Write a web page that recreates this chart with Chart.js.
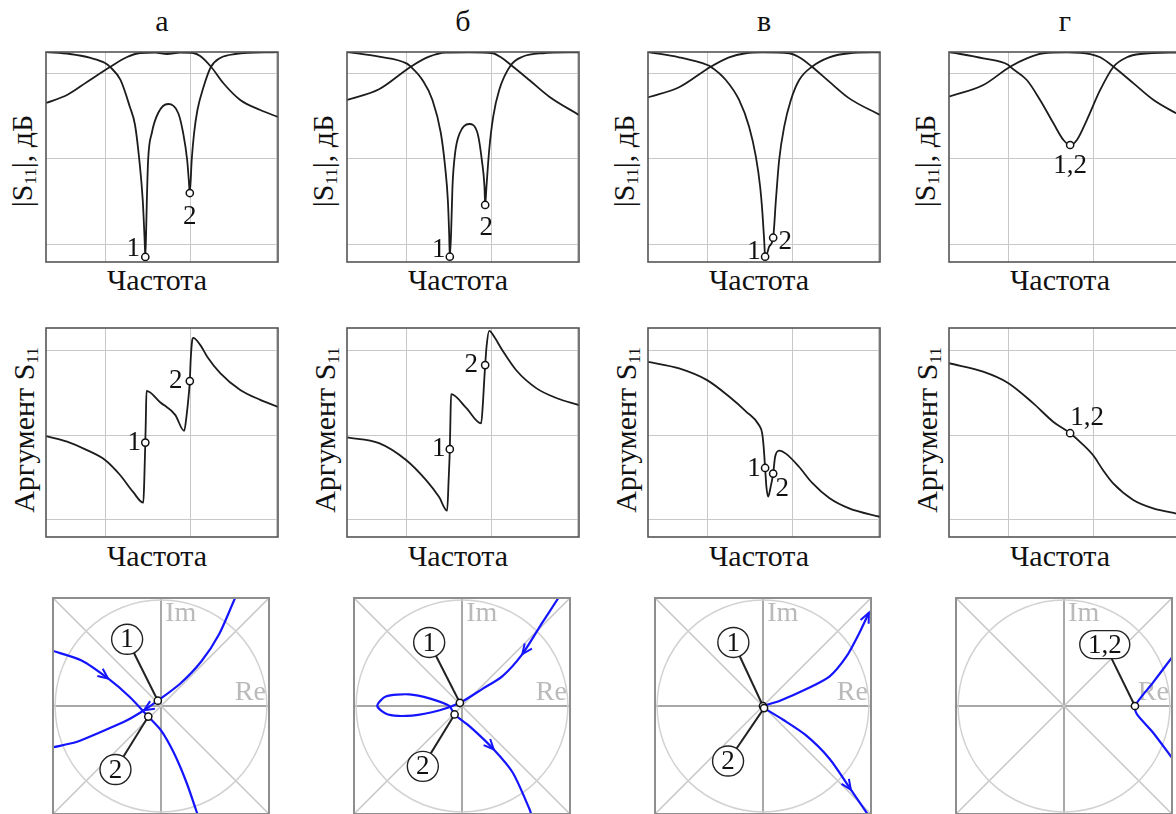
<!DOCTYPE html>
<html>
<head>
<meta charset="utf-8">
<script src="https://cdn.jsdelivr.net/npm/chart.js@4.4.1/dist/chart.umd.min.js"></script>
<style>
html, body { margin: 0; padding: 0; background: #fff; }
#fig { position: relative; width: 1176px; height: 814px; overflow: hidden; font-family: "Liberation Serif", "DejaVu Serif", serif; color: #111; }
#fig canvas { position: absolute; }
.lbl { position: absolute; transform: translate(-50%, -50%); font-size: 30px; line-height: 1; white-space: nowrap; }
.rot { transform: translate(-50%, -50%) rotate(-90deg); }
.lbl sub { font-size: 17px; vertical-align: -4px; line-height: 0; }
</style>
</head>
<body>
<div id="fig"></div>
<script>
// ---- texts ----
const panelTitles = ['а', 'б', 'в', 'г'];
const xTitle = 'Частота';
const magTitle = '|S<sub>11</sub>|, дБ';
const argTitle = 'Аргумент S<sub>11</sub>';

// ---- axes (frequency in arbitrary units, |S| in dB, phase in degrees, complex plane) ----
const freqTicks = [1, 2, 3];
const magTicks = [-2.6, -12.7, -22.9];
const argTicks = [-180, 0, 180];
const planeTicks = [0];

// ---- |S11| and |S21| curves, [frequency, dB] ----
const s11_a = [[0.31,0],[0.59,-0.24],[0.83,-0.71],[1.0,-1.31],[1.06,-1.79],[1.18,-3.33],[1.29,-6.55],[1.35,-8.69],[1.40,-12.86],[1.44,-17.62],[1.462,-22.38],[1.47,-24.4],[1.48,-21.19],[1.488,-17.62],[1.503,-12.86],[1.546,-9.64],[1.62,-7.26],[1.737,-6.19],[1.854,-7.26],[1.912,-9.64],[1.959,-12.86],[1.978,-15.24],[1.99,-16.79],[2.012,-12.86],[2.04,-9.64],[2.079,-6.9],[2.15,-4.17],[2.236,-1.79],[2.345,-0.71],[2.52,-0.24],[3.02,0]];
const s21_a = [[0.31,-6.07],[0.556,-5.12],[0.789,-3.57],[1.058,-1.79],[1.257,-0.6],[1.409,-0.12],[1.585,-0.06],[1.725,-0.24],[1.877,-0.06],[2.029,-0.12],[2.111,-0.48],[2.24,-1.79],[2.38,-3.69],[2.579,-5.71],[2.813,-6.9],[3.02,-7.74]];
const mag_marks_a = [[1.47,-24.4],[1.99,-16.79]];

const s11_b = [[0.31,0],[0.684,-0.56],[1.004,-1.35],[1.055,-1.75],[1.191,-3.33],[1.308,-5.71],[1.406,-9.64],[1.456,-13.65],[1.488,-17.62],[1.503,-21.55],[1.511,-24.37],[1.526,-21.55],[1.542,-16.04],[1.573,-12.02],[1.628,-9.64],[1.737,-8.57],[1.834,-9.64],[1.885,-12.86],[1.916,-16.04],[1.924,-18.21],[1.939,-16.04],[1.971,-11.67],[2.018,-7.7],[2.088,-4.52],[2.225,-1.55],[2.36,-0.56],[2.594,-0.15],[3.02,-0.04]];
const s21_b = [[0.31,-5.71],[0.684,-4.44],[1.055,-1.75],[1.269,-0.56],[1.464,-0.08],[1.737,-0.04],[2.01,-0.15],[2.108,-0.63],[2.225,-1.55],[2.439,-3.33],[2.673,-5.32],[3.02,-7.5]];
const mag_marks_b = [[1.511,-24.37],[1.924,-18.21]];

const s11_c = [[0.31,0],[0.673,-0.63],[1.004,-1.55],[1.043,-1.75],[1.219,-3.33],[1.374,-5.71],[1.491,-8.89],[1.57,-12.46],[1.62,-16.04],[1.647,-19.2],[1.667,-22.38],[1.678,-24.37],[1.702,-23.96],[1.725,-23.18],[1.772,-22.11],[1.804,-17.62],[1.842,-12.86],[1.901,-8.89],[1.979,-5.71],[2.076,-3.33],[2.225,-1.75],[2.427,-0.63],[2.661,-0.15],[3.02,-0.04]];
const s21_c = [[0.31,-5.4],[0.673,-4.2],[1.043,-1.75],[1.257,-0.63],[1.452,-0.15],[1.647,-0.04],[1.959,-0.15],[2.076,-0.63],[2.225,-1.75],[2.427,-3.53],[2.661,-5.52],[3.02,-7.5]];
const mag_marks_c = [[1.678,-24.37],[1.772,-22.11]];

const s11_d = [[0.31,0],[0.711,-0.75],[1.004,-1.55],[1.023,-1.75],[1.219,-3.33],[1.374,-5.71],[1.53,-8.49],[1.647,-10.48],[1.725,-11.07],[1.804,-10.48],[1.92,-8.1],[2.076,-4.52],[2.232,-1.75],[2.388,-0.63],[2.544,-0.24],[3.02,-0.04]];
const s21_d = [[0.31,-5.32],[0.711,-3.93],[1.023,-1.75],[1.219,-0.75],[1.413,-0.15],[1.686,-0.04],[1.959,-0.24],[2.076,-0.63],[2.232,-1.75],[2.466,-3.73],[2.7,-5.71],[2.965,-7.3],[3.02,-7.6]];
const mag_marks_d = [[1.725,-11.07]];

// ---- argument of S11, [frequency, degrees] ----
const arg_a = [[0.31,-2],[0.556,-14],[0.789,-32],[1.0,-53],[1.175,-85],[1.327,-121],[1.447,-144],[1.458,-96],[1.47,-16],[1.476,32],[1.484,94],[1.643,70],[1.819,43],[1.924,9],[1.953,43],[1.977,85],[1.99,115],[2.0,160],[2.018,202],[2.029,207],[2.111,192],[2.193,167],[2.345,132],[2.579,96],[2.813,75],[3.02,60]];
const arg_marks_a = [[1.47,-16],[1.99,115]];

const arg_b = [[0.31,-5],[0.684,-17],[1.0,-53],[1.234,-96],[1.386,-132],[1.48,-161],[1.497,-96],[1.511,-30],[1.518,32],[1.526,87],[1.702,58],[1.877,25],[1.9,75],[1.913,117],[1.924,149],[1.942,192],[1.971,222],[2.041,206],[2.123,181],[2.287,138],[2.52,100],[2.754,79],[3.02,64]];
const arg_marks_b = [[1.511,-30],[1.924,149]];

const arg_c = [[0.31,156],[0.673,142],[1.0,117],[1.257,82],[1.456,50],[1.608,21],[1.643,4],[1.661,-25],[1.678,-70],[1.693,-110],[1.713,-131],[1.742,-111],[1.772,-82],[1.795,-46],[1.842,-33],[1.924,-40],[2.076,-68],[2.228,-102],[2.427,-134],[2.66,-156],[3.02,-174]];
const arg_marks_c = [[1.678,-70],[1.772,-82]];

const arg_d = [[0.31,153],[0.708,135],[1.0,111],[1.292,68],[1.53,28],[1.725,4],[1.862,-18],[1.994,-43],[2.11,-75],[2.228,-103],[2.462,-138],[2.696,-156],[2.965,-167],[3.02,-169]];
const arg_marks_d = [[1.725,4]];

// ---- S11 on the complex plane, [Re, Im] ----
const plane_a1 = [[0.72,1.05],[0.70,1.02],[0.55,0.68],[0.38,0.42],[0.18,0.21],[-0.03,0.05],[-0.16,-0.04],[-0.33,-0.14],[-0.58,-0.25],[-0.80,-0.34],[-1.02,-0.39],[-1.06,-0.40]];
const plane_a2 = [[-1.06,0.53],[-1.02,0.52],[-0.75,0.43],[-0.50,0.26],[-0.30,0.09],[-0.12,-0.10],[0.0,-0.23],[0.12,-0.44],[0.24,-0.72],[0.34,-1.01],[0.35,-1.05]];
const plane_marks_a = [[-0.03,0.05],[-0.12,-0.10]];

const plane_b = [[0.93,1.06],[0.91,1.02],[0.76,0.79],[0.57,0.49],[0.38,0.28],[0.19,0.16],[-0.02,0.03],[-0.21,-0.04],[-0.47,-0.09],[-0.70,-0.08],[-0.80,0.0],[-0.72,0.09],[-0.50,0.11],[-0.30,0.07],[-0.12,0.0],[-0.07,-0.08],[0.07,-0.19],[0.30,-0.41],[0.48,-0.63],[0.64,-0.98],[0.66,-1.05]];
const plane_marks_b = [[-0.02,0.03],[-0.07,-0.08]];

const plane_c1 = [[0.0,0.0],[0.16,0.05],[0.41,0.16],[0.63,0.28],[0.79,0.47],[0.91,0.69],[1.0,0.88]];
const plane_c2 = [[0.01,-0.02],[0.19,-0.13],[0.41,-0.28],[0.63,-0.50],[0.83,-0.79],[0.98,-1.01],[1.0,-1.05]];
const plane_marks_c = [[0.0,0.0],[0.01,-0.02]];

const plane_d = [[1.08,0.54],[1.02,0.46],[0.84,0.22],[0.67,0.0],[0.69,-0.08],[0.84,-0.25],[1.02,-0.49],[1.08,-0.57]];
const plane_marks_d = [[0.67,0.0]];

// ---- layout ----
const fig = document.getElementById('fig');
const colLeft = [46, 347, 648, 949];
const planeLeft = [53, 354, 655, 956];
const PAD = 8;
const serif = '"Liberation Serif", "DejaVu Serif", serif';

function pts(arr) { return arr.map(p => ({ x: p[0], y: p[1] })); }

function axis(min, max, ticks, color, width) {
    return {
        type: 'linear', min: min, max: max,
        ticks: { display: false },
        grid: { color: color, lineWidth: width, drawTicks: false },
        border: { display: false },
        afterBuildTicks: s => { s.ticks = ticks.map(v => ({ value: v })); }
    };
}

function label(html, x, y, rotate) {
    const d = document.createElement('div');
    d.className = 'lbl' + (rotate ? ' rot' : '');
    d.style.left = x + 'px';
    d.style.top = y + 'px';
    d.innerHTML = html;
    fig.appendChild(d);
}

function arrowHead(ctx, x, y, ang) {
    const len = 11, spread = 0.42;
    ctx.beginPath();
    ctx.moveTo(x - len * Math.cos(ang - spread), y - len * Math.sin(ang - spread));
    ctx.lineTo(x, y);
    ctx.lineTo(x - len * Math.cos(ang + spread), y - len * Math.sin(ang + spread));
    ctx.stroke();
}

function decoPlugin(p) {
    return {
        id: 'deco',
        beforeDatasetsDraw(chart) {
            if (p.kind !== 'plane') return;
            const { ctx, chartArea: a, scales: { x, y } } = chart;
            ctx.save();
            ctx.beginPath(); ctx.rect(a.left, a.top, a.width, a.height); ctx.clip();
            ctx.strokeStyle = '#c6c6c6'; ctx.lineWidth = 1.5;
            ctx.beginPath();
            ctx.moveTo(a.left, a.top); ctx.lineTo(a.right, a.bottom);
            ctx.moveTo(a.right, a.top); ctx.lineTo(a.left, a.bottom);
            ctx.stroke();
            const cx = x.getPixelForValue(0), cy = y.getPixelForValue(0);
            const r = x.getPixelForValue(1) - cx;
            ctx.strokeStyle = '#d2d2d2';
            ctx.beginPath(); ctx.arc(cx, cy, r, 0, Math.PI * 2); ctx.stroke();
            ctx.fillStyle = '#bababa';
            ctx.font = '28px ' + serif;
            ctx.textBaseline = 'middle';
            ctx.textAlign = 'left';
            ctx.fillText('Im', x.getPixelForValue(0.04), y.getPixelForValue(0.875));
            ctx.textAlign = 'right';
            ctx.fillText('Re', x.getPixelForValue(0.99), y.getPixelForValue(0.13));
            // callouts
            const marks = chart.getDatasetMeta(0).data;
            p.callouts.forEach(c => {
                const m = marks[c.m];
                const bx = x.getPixelForValue(c.x), by = y.getPixelForValue(c.y);
                ctx.strokeStyle = '#222'; ctx.lineWidth = 2;
                ctx.beginPath(); ctx.moveTo(m.x, m.y); ctx.lineTo(bx, by); ctx.stroke();
                ctx.fillStyle = '#fff'; ctx.lineWidth = 1.4;
                ctx.beginPath();
                if (c.text.length > 1) ctx.roundRect(bx - 25, by - 14, 50, 28, 14);
                else ctx.ellipse(bx, by, 15.5, 15, 0, 0, Math.PI * 2);
                ctx.fill(); ctx.stroke();
                ctx.fillStyle = '#111';
                ctx.font = '27px ' + serif;
                ctx.textAlign = 'center';
                ctx.fillText(c.text, bx, by + 1);
            });
            ctx.restore();
        },
        afterDatasetsDraw(chart) {
            const { ctx, chartArea: a } = chart;
            ctx.save();
            if (p.kind === 'plane') {
                ctx.strokeStyle = '#1414ff'; ctx.lineWidth = 2;
                (p.arrows || []).forEach(([ds, i]) => {
                    const d = chart.getDatasetMeta(ds + 1).data;
                    const prev = d[Math.max(i - 1, 0)], next = d[Math.min(i + 1, d.length - 1)];
                    arrowHead(ctx, d[i].x, d[i].y, Math.atan2(next.y - prev.y, next.x - prev.x));
                });
                ctx.strokeStyle = '#8e8e8e'; ctx.lineWidth = 2;
            } else {
                const marks = chart.getDatasetMeta(0).data;
                ctx.fillStyle = '#111';
                ctx.font = '27px ' + serif;
                ctx.textAlign = 'center';
                ctx.textBaseline = 'middle';
                p.tags.forEach((t, i) => ctx.fillText(t.t, marks[i].x + t.dx, marks[i].y + t.dy));
                ctx.strokeStyle = '#555'; ctx.lineWidth = 1.6;
            }
            ctx.strokeRect(a.left, a.top, a.width, a.height);
            ctx.restore();
        }
    };
}

function makeChart(p) {
    const c = document.createElement('canvas');
    c.width = p.w + 2 * PAD;
    c.height = p.h + 2 * PAD;
    c.style.left = (p.left - PAD) + 'px';
    c.style.top = (p.top - PAD) + 'px';
    fig.appendChild(c);
    const plane = p.kind === 'plane';
    const datasets = [{
        data: pts(p.marks), showLine: false, pointRadius: 3.6, pointBorderWidth: 1.5,
        pointBackgroundColor: '#fff', pointBorderColor: '#111'
    }];
    p.series.forEach(s => datasets.push({
        data: pts(s), showLine: true, pointRadius: 0,
        borderColor: plane ? '#1414ff' : '#1c1c1c', borderWidth: plane ? 2.2 : 1.8,
        cubicInterpolationMode: plane ? 'default' : 'monotone', tension: plane ? 0.25 : 0
    }));
    let xs, ys;
    if (plane) {
        xs = axis(-1.02, 1.02, planeTicks, '#a8a8a8', 2);
        ys = axis(-1.02, 1.02, planeTicks, '#a8a8a8', 2);
    } else {
        xs = axis(0.31, 3.02, freqTicks, '#c8c8c8', 1);
        ys = p.kind === 'mag' ? axis(-25, 0, magTicks, '#c8c8c8', 1) : axis(-217, 228, argTicks, '#c8c8c8', 1);
    }
    return new Chart(c, {
        type: 'scatter',
        data: { datasets: datasets },
        options: {
            responsive: false, animation: false, devicePixelRatio: 1, events: [],
            layout: { padding: PAD },
            plugins: { legend: { display: false }, tooltip: { enabled: false } },
            scales: { x: xs, y: ys }
        },
        plugins: [decoPlugin(p)]
    });
}

const magSeries = [[s11_a, s21_a], [s11_b, s21_b], [s11_c, s21_c], [s11_d, s21_d]];
const magMarks = [mag_marks_a, mag_marks_b, mag_marks_c, mag_marks_d];
const magTags = [
    [{ t: '1', dx: -12, dy: -8 }, { t: '2', dx: 0, dy: 24 }],
    [{ t: '1', dx: -11, dy: -7 }, { t: '2', dx: 1, dy: 23 }],
    [{ t: '1', dx: -11, dy: -5 }, { t: '2', dx: 12, dy: 4 }],
    [{ t: '1,2', dx: 0, dy: 21 }]
];
const argSeries = [[arg_a], [arg_b], [arg_c], [arg_d]];
const argMarks = [arg_marks_a, arg_marks_b, arg_marks_c, arg_marks_d];
const argTags = [
    [{ t: '1', dx: -11, dy: 0 }, { t: '2', dx: -14, dy: 0 }],
    [{ t: '1', dx: -11, dy: 0 }, { t: '2', dx: -14, dy: 0 }],
    [{ t: '1', dx: -11, dy: 1 }, { t: '2', dx: 9, dy: 15 }],
    [{ t: '1,2', dx: 17, dy: -15 }]
];
const planeSeries = [[plane_a1, plane_a2], [plane_b], [plane_c1, plane_c2], [plane_d]];
const planeMarks = [plane_marks_a, plane_marks_b, plane_marks_c, plane_marks_d];
const planeCallouts = [
    [{ m: 0, x: -0.32, y: 0.63, text: '1' }, { m: 1, x: -0.43, y: -0.60, text: '2' }],
    [{ m: 0, x: -0.31, y: 0.60, text: '1' }, { m: 1, x: -0.37, y: -0.57, text: '2' }],
    [{ m: 0, x: -0.28, y: 0.60, text: '1' }, { m: 1, x: -0.33, y: -0.52, text: '2' }],
    [{ m: 0, x: 0.385, y: 0.58, text: '1,2' }]
];
const planeArrows = [[[0, 6], [1, 3]], [[0, 3], [0, 17]], [[0, 6], [1, 4]], []];

for (let i = 0; i < 4; i++) {
    const L = colLeft[i];
    label(panelTitles[i], L + 116, 21);
    label(xTitle, L + 111, 280);
    label(xTitle, L + 111, 556);
    label(magTitle, L - 24, 161, true);
    label(argTitle, L - 22, 430, true);
    makeChart({ kind: 'mag', left: L, top: 52, w: 232, h: 210, series: magSeries[i], marks: magMarks[i], tags: magTags[i] });
    makeChart({ kind: 'arg', left: L, top: 328, w: 232, h: 209, series: argSeries[i], marks: argMarks[i], tags: argTags[i] });
    makeChart({ kind: 'plane', left: planeLeft[i], top: 598, w: 216, h: 216, series: planeSeries[i], marks: planeMarks[i], callouts: planeCallouts[i], arrows: planeArrows[i] });
}
</script>
</body>
</html>
